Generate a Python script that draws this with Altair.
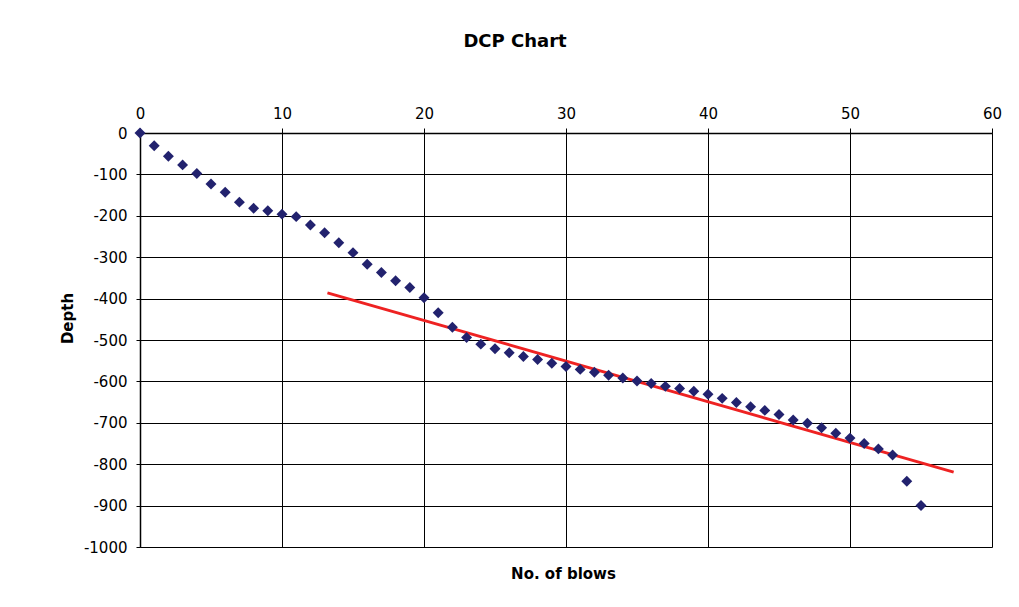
import altair as alt
import pandas as pd

blows = list(range(0, 56))
depth = [0, -31, -56, -77, -98, -123, -143, -167, -182, -188,
         -196, -202, -222, -241, -265, -289, -317, -337, -357, -373,
         -398, -434, -469, -494, -510, -521, -531, -540, -547, -556,
         -564, -571, -578, -585, -592, -599, -605, -612, -617, -624,
         -631, -641, -651, -661, -670, -680, -693, -701, -712, -725,
         -737, -750, -763, -778, -841, -900]

trend_x = [13.2, 57.3]
trend_y = [-386, -819]

x_ticks = [0, 10, 20, 30, 40, 50, 60]
y_ticks = [0, -100, -200, -300, -400, -500, -600, -700, -800, -900, -1000]

pts = pd.DataFrame({"blows": blows, "depth": depth})
trend = pd.DataFrame({"blows": trend_x, "depth": trend_y})

FONT = "DejaVu Sans"

xscale = alt.Scale(domain=[0, 60], nice=False, zero=False)
yscale = alt.Scale(domain=[-1000, 0], nice=False, zero=False)

xaxis = alt.Axis(
    orient="top", values=x_ticks, title="No. of blows",
    labelExpr="'' + datum.value",
    titleX=423, titleY=440, titleAlign="center", titleBaseline="middle",
    titleFont=FONT, titleFontSize=15, titleFontWeight="bold", titleColor="#000000",
    labelFont=FONT, labelFontSize=15, labelColor="#000000", labelPadding=7,
    tickSize=5, tickColor="#000000", domainColor="#000000", domainWidth=1.5,
    gridColor="#000000", gridWidth=1, gridOpacity=1, labelFlush=False,
)
yaxis = alt.Axis(
    orient="left", values=y_ticks, title="Depth",
    labelExpr="'' + datum.value",
    titleX=-73, titleY=185, titleAlign="center", titleBaseline="middle", titleAngle=270,
    titleFont=FONT, titleFontSize=15, titleFontWeight="bold", titleColor="#000000",
    labelFont=FONT, labelFontSize=15, labelColor="#000000", labelPadding=9,
    tickSize=4, tickColor="#000000", domainColor="#000000", domainWidth=1.5,
    gridColor="#000000", gridWidth=1, gridOpacity=1, labelFlush=False,
)

points = alt.Chart(pts).mark_point(
    shape="diamond", filled=True, size=120, color="#22226E", opacity=1
).encode(
    x=alt.X("blows:Q", scale=xscale, axis=xaxis),
    y=alt.Y("depth:Q", scale=yscale, axis=yaxis),
)

line = alt.Chart(trend).mark_line(color="#EE2222", strokeWidth=2.8).encode(
    x=alt.X("blows:Q", scale=xscale),
    y=alt.Y("depth:Q", scale=yscale),
)

chart = alt.layer(line, points).properties(
    width=852, height=414,
    title=alt.TitleParams("DCP Chart", font=FONT, fontSize=18, fontWeight="bold",
                          color="#000000", anchor="middle", dx=-51, offset=55),
    autosize=alt.AutoSizeParams(type="none"),
    padding={"left": 132, "top": 125, "right": 10, "bottom": 50},
).configure_view(stroke="#000000", strokeWidth=1.5).configure(background="#FFFFFF")

chart.save("out.html", embed_options={"renderer": "svg", "actions": False})
